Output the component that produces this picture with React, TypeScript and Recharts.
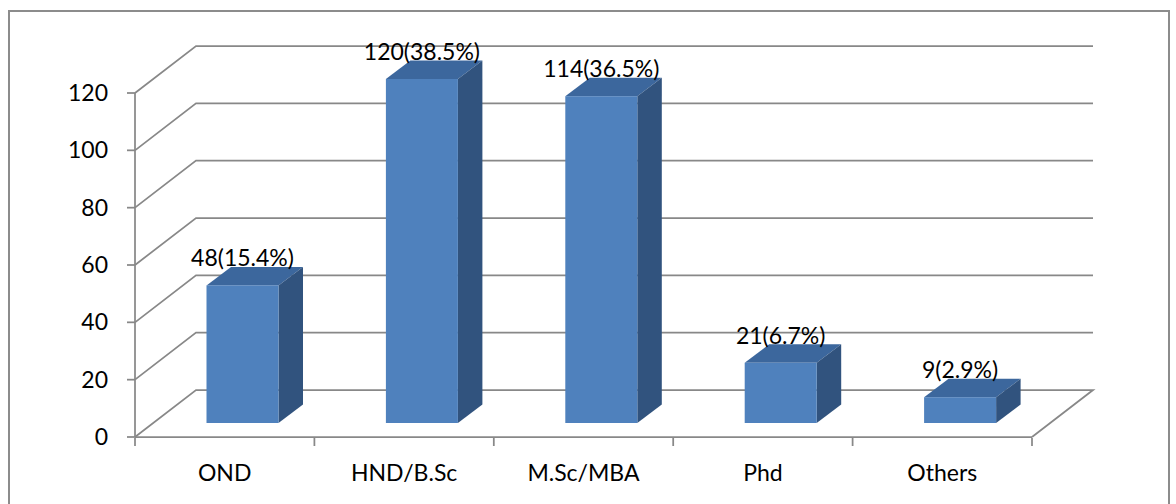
import { Bar, BarChart, CartesianGrid, LabelList, XAxis, YAxis } from "recharts";

const categories = ["OND", "HND/B.Sc", "M.Sc/MBA", "Phd", "Others"];
const counts = [48, 120, 114, 21, 9];
const shares = ["15.4", "38.5", "36.5", "6.7", "2.9"];
const valueTicks = [0, 20, 40, 60, 80, 100, 120];
const edgeTicks = [0, 1, 2, 3, 4, 5];

const data = categories.map((name, i) => ({
  name,
  slot: i + 0.5,
  count: counts[i],
  text: `${counts[i]}(${shares[i]}%)`,
}));

const FONT = "Lato, 'Open Sans', sans-serif";
const GRID = "#888888";
const BORDER = "#8c8c8c";

// depth of the wall/floor box, and where the columns sit inside that depth
const WALL_DX = 61;
const WALL_DY = -47;
const COL_DX = 17.5;
const COL_DY = -14;
const COL_DEPTH_X = 24.5;
const COL_DEPTH_Y = -18.5;

const pts = (list: number[][]) => list.map((p) => p.join(",")).join(" ");

// each value line runs up the side wall and along the back wall; the zero line closes the floor
function wallLine(props: any) {
  const { x1, y1, x2, index } = props;
  const back = y1 + WALL_DY;
  const path = [
    [x1, y1],
    [x1 + WALL_DX, back],
    [x2 + WALL_DX, back],
  ];
  if (Math.abs(y1 - props.y - props.height) < 1) path.push([x2, y1]);
  return (
    <polyline
      key={`wall-${index}`}
      points={pts(path)}
      fill="none"
      stroke={GRID}
      strokeWidth={1.75}
    />
  );
}

function Column3D(props: any) {
  const { x, y, width, height } = props;
  const fx = x + COL_DX;
  const fy = y + COL_DY;
  const dx = COL_DEPTH_X;
  const dy = COL_DEPTH_Y;
  return (
    <g>
      <polygon
        points={pts([
          [fx, fy],
          [fx + dx, fy + dy],
          [fx + width + dx, fy + dy],
          [fx + width, fy],
        ])}
        fill="#3c679d"
      />
      <polygon
        points={pts([
          [fx + width, fy],
          [fx + width + dx, fy + dy],
          [fx + width + dx, fy + height + dy],
          [fx + width, fy + height],
        ])}
        fill="#31537e"
      />
      <rect x={fx} y={fy} width={width} height={height} fill="#4f81bd" />
    </g>
  );
}

function ColumnLabel(props: any) {
  const { x, y, width, value } = props;
  return (
    <text
      x={x + width / 2 + COL_DX}
      y={y + COL_DY - 19}
      textAnchor="middle"
      fontSize={23}
      fontFamily={FONT}
      fill="#000"
    >
      {value}
    </text>
  );
}

// boundary axis only shows its tick marks
const noLabel = () => <g />;

export default function App() {
  return (
    <div
      style={{
        position: "relative",
        width: 1176,
        height: 504,
        overflow: "hidden",
        background: "#fff",
      }}
    >
      <style>{"body{margin:0;overflow:hidden}"}</style>
      <BarChart
        width={1176}
        height={504}
        data={data}
        margin={{ top: 93, right: 144, bottom: 65, left: 0 }}
        barSize={72}
      >
        <CartesianGrid xAxisId="cat" vertical={false} horizontal={wallLine} />
        <XAxis
          xAxisId="cat"
          dataKey="name"
          height={1}
          interval={0}
          stroke={GRID}
          axisLine={{ stroke: GRID, strokeWidth: 1.75 }}
          tickLine={false}
          tickSize={8}
          tickMargin={20}
          tick={{ fontSize: 23, fill: "#000", fontFamily: FONT }}
        />
        <XAxis
          xAxisId="edge"
          dataKey="slot"
          type="number"
          domain={[0, 5]}
          ticks={edgeTicks}
          interval={0}
          allowDataOverflow
          height={1}
          stroke={GRID}
          axisLine={false}
          tick={noLabel}
          tickSize={8}
          tickLine={{ stroke: GRID, strokeWidth: 1.75 }}
        />
        <YAxis
          width={135}
          domain={[0, 120]}
          ticks={valueTicks}
          interval={0}
          stroke={GRID}
          axisLine={{ stroke: GRID, strokeWidth: 1.75 }}
          tickLine={{ stroke: GRID, strokeWidth: 1.75 }}
          tickSize={8}
          tickMargin={19}
          tick={{ fontSize: 23, fill: "#000", fontFamily: FONT }}
        />
        <Bar xAxisId="cat" dataKey="count" shape={Column3D} isAnimationActive={false}>
          <LabelList dataKey="text" content={ColumnLabel} />
        </Bar>
      </BarChart>
      <div
        style={{
          position: "absolute",
          left: 8,
          top: 10,
          width: 1158,
          height: 500,
          border: `2px solid ${BORDER}`,
          borderBottom: "none",
          pointerEvents: "none",
        }}
      />
    </div>
  );
}
